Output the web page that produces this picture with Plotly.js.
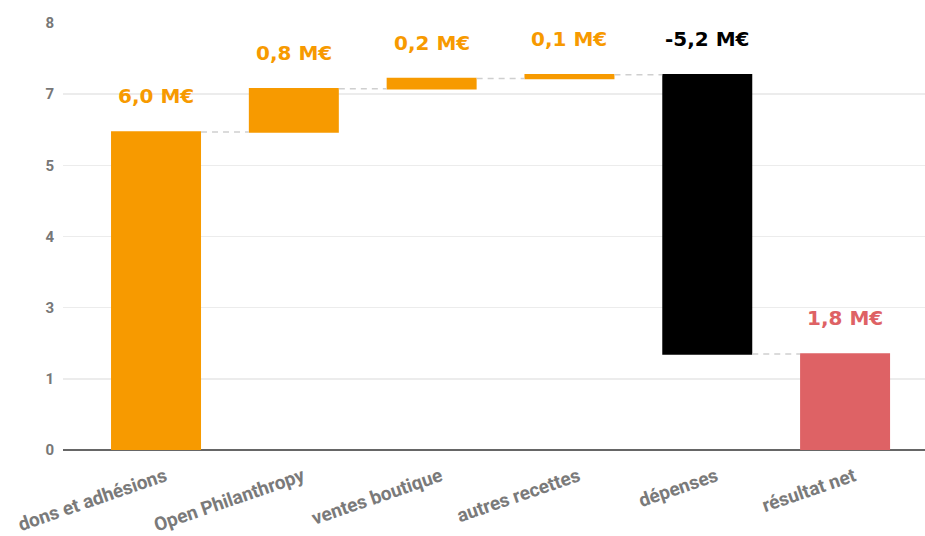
<!DOCTYPE html>
<html>
<head>
<meta charset="utf-8">
<script src="https://cdn.plot.ly/plotly-3.0.1.min.js"></script>
<style>
  html, body { margin: 0; padding: 0; background: #ffffff; }
  #chart { width: 925px; height: 536px; }
</style>
</head>
<body>
<div id="chart"></div>
<script>
// Budget waterfall, values in millions of euros
const categories = ['dons et adhésions', 'Open Philanthropy', 'ventes boutique', 'autres recettes', 'dépenses', 'résultat net'];
const flows = [5.96, 0.81, 0.19, 0.07, -5.23];   // relative steps
const measures = ['relative', 'relative', 'relative', 'relative', 'relative', 'total'];
const yTickLabels = ['0', '1', '3', '4', '5', '7', '8'];

const ORANGE = '#F79A00';
const BLACK = '#000000';
const RED = '#DE6265';

// running levels
const levels = [];
let run = 0;
flows.forEach(v => { const start = run; run += v; levels.push({ start, end: run, delta: v }); });
const net = run;
levels.push({ start: 0, end: net, delta: net });

const yValues = flows.concat([net]);
const fmt = v => v.toFixed(1).replace('.', ',') + ' M€';

const labelColor = (i) => measures[i] === 'total' ? RED : (levels[i].delta < 0 ? BLACK : ORANGE);

const annotations = categories.map((c, i) => ({
  x: c,
  y: Math.max(levels[i].start, levels[i].end),
  xref: 'x', yref: 'y',
  text: fmt(levels[i].delta),
  showarrow: false,
  yanchor: 'middle',
  yshift: 36,
  font: { family: 'DejaVu Sans', size: 20, weight: 'bold', color: labelColor(i) }
}));

const yMax = 8;
const yTickVals = yTickLabels.map((_, i) => i * yMax / (yTickLabels.length - 1));

const trace = {
  type: 'waterfall',
  x: categories,
  y: yValues,
  measure: measures,
  increasing: { marker: { color: ORANGE } },
  decreasing: { marker: { color: BLACK } },
  totals: { marker: { color: RED } },
  connector: { mode: 'between', line: { color: '#cfcfcf', width: 1.5, dash: '6px,5px' } },
  textposition: 'none',
  hoverinfo: 'none'
};

const layout = {
  width: 925,
  height: 536,
  margin: { l: 63, r: 0, t: 23, b: 86 },
  paper_bgcolor: '#ffffff',
  plot_bgcolor: '#ffffff',
  showlegend: false,
  waterfallgap: 0.347,
  xaxis: {
    type: 'category',
    range: [-0.675, 5.58],
    tickangle: -19,
    tickfont: { family: 'Roboto', size: 19, weight: 'bold', color: '#7a7a7a' },
    showgrid: false,
    showline: false,
    ticks: '',
    ticklabelstandoff: 11,
    ticklabelshift: 9,
    fixedrange: true
  },
  yaxis: {
    range: [0, yMax],
    tickvals: yTickVals,
    ticktext: yTickLabels,
    tickfont: { family: 'Roboto', size: 15, weight: 'bold', color: '#777777' },
    showgrid: true,
    gridcolor: '#ececec',
    gridwidth: 1.5,
    zeroline: true,
    zerolinecolor: '#666666',
    zerolinewidth: 2,
    showline: false,
    ticks: '',
    ticklabelstandoff: 8,
    fixedrange: true
  },
  annotations: annotations
};

Plotly.newPlot('chart', [trace], layout, { displayModeBar: false, staticPlot: true });
</script>
</body>
</html>
